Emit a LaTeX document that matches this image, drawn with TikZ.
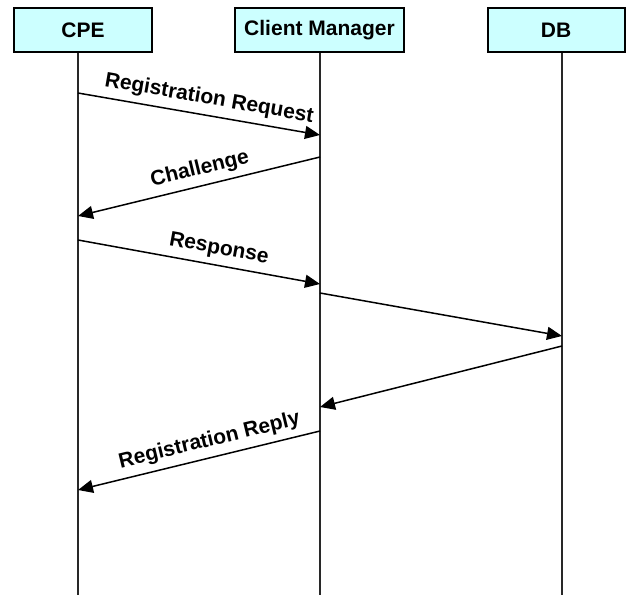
\documentclass[tikz,border=0pt]{standalone}
\usepackage{fontspec}
\setmainfont{Liberation Sans}
\usetikzlibrary{arrows.meta}
\begin{document}
\begin{tikzpicture}[x=1pt,y=-1pt,
  actor/.style={draw=black,line width=2pt,fill={rgb,255:red,204;green,255;blue,255},
    font=\fontsize{21}{25}\selectfont\bfseries,inner sep=0pt},
  lifeline/.style={draw={rgb,255:red,40;green,40;blue,40},line width=1.6pt},
  msg/.style={draw=black,line width=1.5pt,-{Triangle[length=15pt,width=13pt]}},
  msglabel/.style={font=\fontsize{21}{25}\selectfont\bfseries,sloped,above=5pt,inner sep=1pt}]
  \useasboundingbox (0,0) rectangle (626,595);

  % participants
  \node[actor,minimum width=138pt,minimum height=44pt] (cpe) at (83,30) {CPE};
  \node[actor,minimum width=169pt,minimum height=44pt] (cm) at (319.5,30) {Client Manager};
  \node[actor,minimum width=137pt,minimum height=44pt] (db) at (556,30) {DB};

  % lifelines
  \coordinate (cpeEnd) at (78,595);
  \coordinate (cmEnd) at (320,595);
  \coordinate (dbEnd) at (562,595);
  \draw[lifeline] (cpe.south -| cpeEnd) -- (cpeEnd);
  \draw[lifeline] (cm.south -| cmEnd) -- (cmEnd);
  \draw[lifeline] (db.south -| dbEnd) -- (dbEnd);

  % message end points on the lifelines
  \coordinate (a1) at (78,93);   \coordinate (b1) at (320,135);
  \coordinate (b2) at (320,157); \coordinate (a2) at (78,216);
  \coordinate (a3) at (78,240);  \coordinate (b3) at (320,284);
  \coordinate (b4) at (320,293); \coordinate (d4) at (562,336);
  \coordinate (d5) at (562,346); \coordinate (b5) at (320,407);
  \coordinate (b6) at (320,431); \coordinate (a6) at (78,490);

  % messages
  \draw[msg] (a1) -- node[msglabel,pos=0.53] {Registration Request} (b1);
  \draw[msg] (b2) -- node[msglabel,pos=0.48] {Challenge} (a2);
  \draw[msg] (a3) -- node[msglabel,pos=0.57] {Response} (b3);
  \draw[msg] (b4) -- (d4);
  \draw[msg] (d5) -- (b5);
  \draw[msg] (b6) -- node[msglabel,pos=0.44] {Registration Reply} (a6);
\end{tikzpicture}
\end{document}
